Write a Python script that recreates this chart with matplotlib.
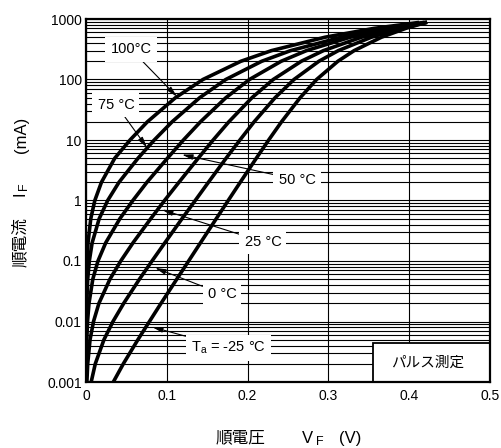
import matplotlib.pyplot as plt
from matplotlib.ticker import LogLocator, NullFormatter
from matplotlib.patches import Rectangle

plt.rcParams['font.family'] = ['Liberation Sans', 'Noto Sans CJK JP']
plt.rcParams['mathtext.fontset'] = 'custom'
plt.rcParams['mathtext.rm'] = 'Liberation Sans'

# Forward current (mA) and forward voltage (V)
current = [0.001, 0.002, 0.005, 0.01, 0.02, 0.05, 0.1, 0.2, 0.5, 1, 2, 5,
           10, 20, 50, 100, 200, 300, 500, 700, 870]
vf_100 = [0.0, 0.0003, 0.0001, 0.0001, 0.0003, 0.0006, 0.0013, 0.0025, 0.0059, 0.0109, 0.0191, 0.0356,
          0.0545, 0.076, 0.1107, 0.1447, 0.1916, 0.2295, 0.2958, 0.3566, 0.41]
vf_75 = [0.0, 0.0001, 0.0002, 0.0004, 0.0009, 0.0021, 0.0041, 0.0076, 0.0163, 0.0268, 0.0408, 0.0644,
         0.0845, 0.1066, 0.1407, 0.173, 0.2174, 0.2532, 0.3159, 0.3734, 0.42]
vf_50 = [0.0002, 0.0004, 0.001, 0.0019, 0.0037, 0.0084, 0.0148, 0.0244, 0.0419, 0.058, 0.0754, 0.1008,
         0.1206, 0.1417, 0.1731, 0.2023, 0.2415, 0.2728, 0.327, 0.3763, 0.4164]
vf_25 = [0.0011, 0.0021, 0.005, 0.0093, 0.016, 0.0296, 0.043, 0.0582, 0.0801, 0.0972, 0.115, 0.1389,
         0.1574, 0.1768, 0.2054, 0.2317, 0.2664, 0.2938, 0.3409, 0.3835, 0.418]
vf_0 = [0.0064, 0.0115, 0.0222, 0.0334, 0.0467, 0.0661, 0.0817, 0.0976, 0.1188, 0.1352, 0.1515, 0.1734,
        0.1905, 0.2081, 0.234, 0.2574, 0.2882, 0.3122, 0.3532, 0.3901, 0.4199]
vf_m25 = [0.0338, 0.0462, 0.0642, 0.0785, 0.0929, 0.1123, 0.127, 0.1417, 0.1612, 0.176, 0.1909, 0.2108,
          0.2261, 0.242, 0.265, 0.2854, 0.3117, 0.3318, 0.3657, 0.3958, 0.42]
curves = [vf_100, vf_75, vf_50, vf_25, vf_0, vf_m25]

y_ticks = [0.001, 0.01, 0.1, 1, 10, 100, 1000]
y_labels = ['0.001', '0.01', '0.1', '1', '10', '100', '1000']
x_ticks = [0, 0.1, 0.2, 0.3, 0.4, 0.5]
x_labels = ['0', '0.1', '0.2', '0.3', '0.4', '0.5']

# label text, arrow tip (V, mA), text centre (V, mA)
labels = [
    ('100°C', (0.1126, 52), (0.0557, 314)),
    ('75 °C', (0.0755, 7.5), (0.0371, 38.5)),
    ('50 °C', (0.1188, 5.73), (0.2611, 2.21)),
    ('25 °C', (0.094, 0.705), (0.219, 0.208)),
    ('0 °C', (0.0855, 0.077), (0.1683, 0.0286)),
    ('T$_\\mathrm{a}$ = -25 °C', (0.0817, 0.00813), (0.176, 0.00365)),
]

fig = plt.figure(figsize=(5.01, 4.48), dpi=100)
ax = fig.add_axes([86 / 501, 1 - 382 / 448, 404 / 501, 363 / 448])
ax.set_yscale('log')
ax.set_xlim(0, 0.5)
ax.set_ylim(0.001, 1000)

for vf in curves:
    ax.plot(vf, current, color='black', lw=2.6, zorder=3)

ax.set_yticks(y_ticks)
ax.set_yticklabels(y_labels)
ax.yaxis.set_minor_locator(LogLocator(base=10, subs=range(2, 10)))
ax.yaxis.set_minor_formatter(NullFormatter())
ax.set_xticks(x_ticks)
ax.set_xticklabels(x_labels)
ax.tick_params(which='both', length=0, labelsize=10)
ax.tick_params(axis='y', pad=3)
ax.tick_params(axis='x', pad=5)
ax.grid(which='both', axis='y', color='black', lw=0.8, zorder=1)
ax.grid(which='major', axis='x', color='black', lw=0.8, zorder=1)
ax.set_axisbelow(True)
for sp in ax.spines.values():
    sp.set_linewidth(1.6)
    sp.set_zorder(5)

for text, tip, pos in labels:
    ax.annotate(text, xy=tip, xytext=pos, fontsize=10.5, ha='center', va='center',
                bbox=dict(boxstyle='square,pad=0.35', fc='white', ec='none'),
                arrowprops=dict(arrowstyle='-|>,head_length=0.6,head_width=0.15',
                                color='black', lw=0.8, shrinkA=0, shrinkB=0),
                zorder=4)

# pulse measurement box
ax.add_patch(Rectangle((0.7097, 0), 0.2903, 0.1083, transform=ax.transAxes,
                       fc='white', ec='black', lw=1.3, zorder=4))
ax.text(0.845, 0.054, 'パルス測定', transform=ax.transAxes, fontsize=10.5,
        ha='center', va='center', zorder=5)

# axis titles with subscripts
fig.text(240 / 501, 1 - 438 / 448, '順電圧', fontsize=12, ha='center', va='center')
fig.text(307 / 501, 1 - 438 / 448, 'V', fontsize=12, ha='center', va='center')
fig.text(320 / 501, 1 - 442 / 448, 'F', fontsize=9, ha='center', va='center')
fig.text(350 / 501, 1 - 438 / 448, '(V)', fontsize=12, ha='center', va='center')

fig.text(20 / 501, 1 - 242 / 448, '順電流', fontsize=12, rotation=90, ha='center', va='center')
fig.text(20 / 501, 1 - 194 / 448, 'I', fontsize=12, rotation=90, ha='center', va='center')
fig.text(24 / 501, 1 - 186 / 448, 'F', fontsize=9, rotation=90, ha='center', va='center')
fig.text(21 / 501, 1 - 135 / 448, '(mA)', fontsize=12, rotation=90, ha='center', va='center')

fig.savefig('out.png', dpi=100)
